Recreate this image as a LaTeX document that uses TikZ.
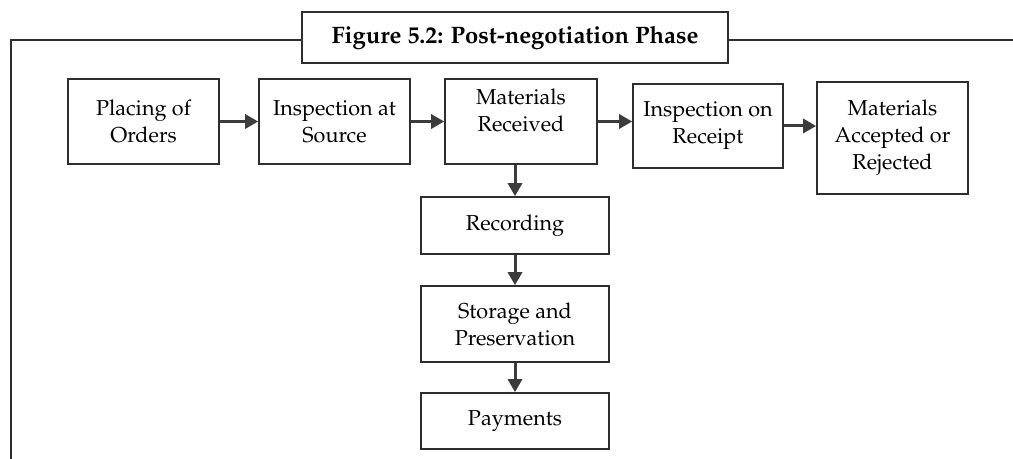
\documentclass[tikz,border=0pt]{standalone}
\usepackage[T1]{fontenc}
\renewcommand{\rmdefault}{ppl}
\usetikzlibrary{arrows.meta}
\definecolor{lc}{HTML}{2E2E2E}
\definecolor{ac}{HTML}{3C3C3C}
\begin{document}
\begin{tikzpicture}[x=0.5pt,y=-0.5pt,
  box/.style={draw=lc, line width=0.8pt, fill=white, align=center,
    font=\fontsize{10.8}{13.5}\selectfont, inner sep=0pt},
  txt/.style={align=center, font=\fontsize{10.8}{13.5}\selectfont, inner sep=0pt},
  arr/.style={draw=ac, line width=1.5pt, -{Triangle[length=6.5pt,width=7pt]}},
  frame/.style={draw=lc, line width=0.8pt}]
\useasboundingbox (0,0) rectangle (1013,459);
\node[box, minimum width=213pt, minimum height=25.5pt, font=\fontsize{11.9}{14}\selectfont\bfseries] (title) at (515,37.5) {Figure 5.2: Post-negotiation Phase};
\draw[frame] (title.west |- 0,40) -- (11,40) -- (11,462);
\draw[frame] (title.east |- 0,40) -- (1016,40);
\node[box, minimum width=75.5pt, minimum height=42.5pt] (po) at (143.5,121.5) {Placing of\\Orders};
\node[box, minimum width=75.5pt, minimum height=42.5pt] (is) at (334.5,121.5) {Inspection at\\Source};
\node[box, minimum width=76pt, minimum height=42.5pt] (mr) at (521,121.5) {};
\node[txt] (mrt) at (521,110) {Materials\\Received};
\node[box, minimum width=75pt, minimum height=42pt] (ir) at (708,126) {Inspection on\\Receipt};
\node[box, minimum width=75.5pt, minimum height=56pt] (ma) at (892.5,138) {Materials\\Accepted or\\Rejected};
\node[box, minimum width=94pt, minimum height=28.5pt] (rec) at (515,225.5) {Recording};
\node[box, minimum width=94pt, minimum height=38pt] (sto) at (515,324) {Storage and\\Preservation};
\node[box, minimum width=94pt, minimum height=28pt] (pay) at (515,421) {Payments};
\draw[arr] (po) -- (is);
\draw[arr] (is) -- (mr);
\draw[arr] (mr.east) -- (mr.east -| ir.west);
\draw[arr] (ir.east) -- (ir.east -| ma.west);
\draw[arr] (mr.south -| rec.north) -- (rec.north);
\draw[arr] (rec) -- (sto);
\draw[arr] (sto) -- (pay);
\end{tikzpicture}
\end{document}
